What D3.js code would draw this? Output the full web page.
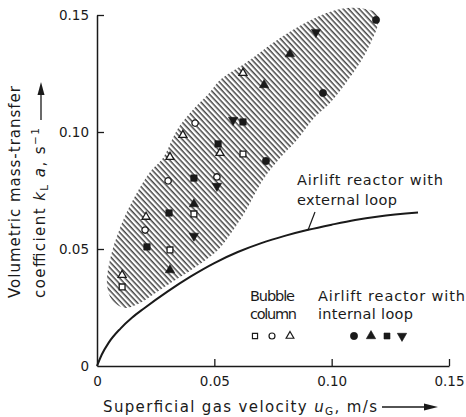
<!DOCTYPE html>
<html>
<head>
<meta charset="utf-8">
<script src="https://cdn.jsdelivr.net/npm/d3@7"></script>
<style>
  html, body { margin: 0; padding: 0; background: #fff; }
  svg { display: block; }
  text { font-family: "DejaVu Sans", "Noto Sans", sans-serif; fill: #1a1a1a; }
</style>
</head>
<body>
<svg id="chart" width="466" height="417"></svg>
<script>
// Axis ticks
const xTicks = [0, 0.05, 0.10, 0.15];
const yTicks = [0, 0.05, 0.10, 0.15];
const xTickLabels = ["0", "0.05", "0.10", "0.15"];
const yTickLabels = ["0", "0.05", "0.10", "0.15"];

// Bubble column measurements (open symbols): [u_G m/s, kLa 1/s]
const bubbleSquare = [[0.0107, 0.0338], [0.0311, 0.0496], [0.0413, 0.0650], [0.0622, 0.0906]];
const bubbleCircle = [[0.0205, 0.0581], [0.0303, 0.0791], [0.0418, 0.1038], [0.0511, 0.0808]];
const bubbleTriangle = [[0.0107, 0.0389], [0.0209, 0.0637], [0.0311, 0.0893], [0.0366, 0.0987], [0.0524, 0.0910], [0.0622, 0.1252]];

// Airlift reactor with internal loop (filled symbols)
const internalCircle = [[0.0720, 0.0876], [0.0963, 0.1167], [0.1189, 0.1479]];
const internalTriangle = [[0.0311, 0.0410], [0.0413, 0.0692], [0.0712, 0.1201], [0.0822, 0.1333]];
const internalSquare = [[0.0213, 0.0509], [0.0307, 0.0654], [0.0413, 0.0803], [0.0516, 0.0949], [0.0622, 0.1043]];
const internalDown = [[0.0413, 0.0556], [0.0511, 0.0769], [0.0580, 0.1051], [0.0933, 0.1427]];

// Airlift reactor with external loop (correlation curve)
const externalLoop = [[0, 0], [0.002, 0.0048], [0.005, 0.0100], [0.010, 0.0160], [0.015, 0.0207],
  [0.020, 0.0246], [0.030, 0.0318], [0.040, 0.0383], [0.050, 0.0440], [0.060, 0.0487],
  [0.070, 0.0525], [0.080, 0.0556], [0.090, 0.0582], [0.100, 0.0604], [0.110, 0.0624],
  [0.120, 0.0639], [0.1368, 0.0656]];

// Outline of the hatched band containing the internal-loop / bubble-column data
const bandOutline = [[0.1197, 0.1504], [0.1142, 0.1526], [0.1036, 0.1526], [0.0920, 0.1483], [0.0780, 0.1402],
  [0.0639, 0.1299], [0.0524, 0.1222], [0.0482, 0.1171], [0.0396, 0.1081], [0.0341, 0.1009], [0.0281, 0.0889],
  [0.0226, 0.0829], [0.0153, 0.0709], [0.0098, 0.0590], [0.0055, 0.0453], [0.0043, 0.0346], [0.0064, 0.0282],
  [0.0119, 0.0248], [0.0183, 0.0269], [0.0268, 0.0325], [0.0354, 0.0380], [0.0439, 0.0436], [0.0516, 0.0496],
  [0.0575, 0.0573], [0.0631, 0.0658], [0.0707, 0.0795], [0.0780, 0.0889], [0.0852, 0.0966], [0.0929, 0.1064],
  [0.0993, 0.1124], [0.1070, 0.1222], [0.1133, 0.1316], [0.1172, 0.1393], [0.1197, 0.1457]];

// Leader from the curve label to the curve
const leader = [[0.0929, 0.0658], [0.0899, 0.0580]];

const svg = d3.select("#chart");
const x = d3.scaleLinear().domain([0, 0.15]).range([97, 449]);
const y = d3.scaleLinear().domain([0, 0.15]).range([366, 15]);
const ink = "#1a1a1a";

// Hatch pattern
const defs = svg.append("defs");
const pat = defs.append("pattern")
  .attr("id", "hatch").attr("patternUnits", "userSpaceOnUse")
  .attr("width", 8).attr("height", 3.9)
  .attr("patternTransform", "rotate(47)");
pat.append("rect").attr("width", 8).attr("height", 3.9).attr("fill", "#fff");
pat.append("rect").attr("y", 0).attr("width", 8).attr("height", 1.5).attr("fill", "#444");

svg.append("path")
  .datum(bandOutline)
  .attr("d", d3.line().x(d => x(d[0])).y(d => y(d[1])).curve(d3.curveCatmullRomClosed))
  .attr("fill", "url(#hatch)")
  .attr("stroke", "none");

// Axes
const xAxis = d3.axisBottom(x).tickValues(xTicks).tickFormat((d, i) => xTickLabels[i])
  .tickSize(-7).tickSizeOuter(0).tickPadding(10);
const yAxis = d3.axisLeft(y).tickValues(yTicks).tickFormat((d, i) => yTickLabels[i])
  .tickSize(-7).tickSizeOuter(0).tickPadding(8);

const gx = svg.append("g").attr("transform", `translate(0,${y(0)})`).call(xAxis);
const gy = svg.append("g").attr("transform", `translate(${x(0)},0)`).call(yAxis);
[gx, gy].forEach(g => {
  g.select(".domain").attr("stroke", ink).attr("stroke-width", 1.5);
  g.selectAll(".tick line").attr("stroke", ink).attr("stroke-width", 1.3);
  g.selectAll(".tick text").attr("fill", ink).style("font-size", "13.5px")
    .style("font-family", '"DejaVu Sans", sans-serif');
});
gx.selectAll(".tick").filter(d => d === 0).select("line").remove();
gy.selectAll(".tick").filter(d => d === 0).select("line").remove();

// External-loop curve
svg.append("path")
  .datum(externalLoop)
  .attr("d", d3.line().x(d => x(d[0])).y(d => y(d[1])).curve(d3.curveMonotoneX))
  .attr("fill", "none").attr("stroke", ink).attr("stroke-width", 2);

svg.append("path")
  .datum(leader)
  .attr("d", d3.line().x(d => x(d[0])).y(d => y(d[1])))
  .attr("stroke", ink).attr("stroke-width", 1.2);

// Markers
function drawMarkers(data, type, size, filled, rotate) {
  svg.append("g").selectAll("path").data(data).join("path")
    .attr("d", d3.symbol().type(type).size(size))
    .attr("transform", d => `translate(${x(d[0])},${y(d[1])})${rotate ? " rotate(180)" : ""}`)
    .attr("fill", filled ? ink : "#fff")
    .attr("stroke", ink)
    .attr("stroke-width", filled ? 0.6 : 1.3);
}
drawMarkers(bubbleSquare, d3.symbolSquare, 34, false);
drawMarkers(bubbleCircle, d3.symbolCircle, 32, false);
drawMarkers(bubbleTriangle, d3.symbolTriangle, 28, false);
drawMarkers(internalCircle, d3.symbolCircle, 42, true);
drawMarkers(internalTriangle, d3.symbolTriangle, 38, true);
drawMarkers(internalSquare, d3.symbolSquare, 42, true);
drawMarkers(internalDown, d3.symbolTriangle, 38, true, true);

// Text helper: fixed advance so the lettering keeps its wide technical spacing
function label(g, xPos, yPos, str, len) {
  return g.append("text").attr("x", xPos).attr("y", yPos)
    .attr("textLength", len).attr("lengthAdjust", "spacing").text(str);
}

// Curve label
const lab = svg.append("g").style("font-size", "14.5px");
label(lab, 297, 185, "Airlift reactor with", 146);
label(lab, 297, 205, "external loop", 100);

// Legend
const leg = svg.append("g").style("font-size", "14.5px");
label(leg, 250, 301, "Bubble", 45);
label(leg, 250, 319, "column", 47);
label(leg, 318, 301, "Airlift reactor with", 147);
label(leg, 318, 319, "internal loop", 95);
const legSym = [
  [255, d3.symbolSquare, 26, false, false], [272, d3.symbolCircle, 28, false, false], [290, d3.symbolTriangle, 26, false, false],
  [354, d3.symbolCircle, 42, true, false], [371, d3.symbolTriangle, 38, true, false],
  [387, d3.symbolSquare, 36, true, false], [402, d3.symbolTriangle, 38, true, true]
];
leg.selectAll("path").data(legSym).join("path")
  .attr("d", d => d3.symbol().type(d[1]).size(d[2])())
  .attr("transform", d => `translate(${d[0]},336)${d[4] ? " rotate(180)" : ""}`)
  .attr("fill", d => d[3] ? ink : "#fff")
  .attr("stroke", ink).attr("stroke-width", d => d[3] ? 0.6 : 1.2);

// Axis titles
const xt = svg.append("text").attr("x", 103).attr("y", 412).style("font-size", "15px")
  .attr("textLength", 274).attr("lengthAdjust", "spacing");
xt.append("tspan").text("Superficial gas velocity ");
xt.append("tspan").style("font-style", "italic").text("u");
xt.append("tspan").attr("dy", 3).style("font-size", "10.5px").text("G");
xt.append("tspan").attr("dy", -3).text(", m/s");
svg.append("line").attr("x1", 382).attr("y1", 407).attr("x2", 428).attr("y2", 407)
  .attr("stroke", ink).attr("stroke-width", 1.3);
svg.append("path").attr("d", "M438,407 L424,403.5 L424,410.5 Z").attr("fill", ink);

const yt = svg.append("g").attr("transform", "translate(0,298) rotate(-90)");
yt.append("text").attr("x", 0).attr("y", 20).style("font-size", "15px")
  .attr("textLength", 212).attr("lengthAdjust", "spacing").text("Volumetric mass-transfer");
const yt2 = yt.append("text").attr("x", 0).attr("y", 45).style("font-size", "15px")
  .attr("textLength", 170).attr("lengthAdjust", "spacing");
yt2.append("tspan").text("coefficient  ");
yt2.append("tspan").style("font-style", "italic").text("k");
yt2.append("tspan").attr("dy", 3).style("font-size", "10.5px").text("L");
yt2.append("tspan").attr("dy", -3).style("font-style", "italic").text(" a");
yt2.append("tspan").text(", s");
yt2.append("tspan").attr("dy", -6).style("font-size", "10.5px").text("−1");
yt.append("line").attr("x1", 178).attr("y1", 41).attr("x2", 206).attr("y2", 41)
  .attr("stroke", ink).attr("stroke-width", 1.3);
yt.append("path").attr("d", "M216,41 L203,37.5 L203,44.5 Z").attr("fill", ink);
</script>
</body>
</html>
